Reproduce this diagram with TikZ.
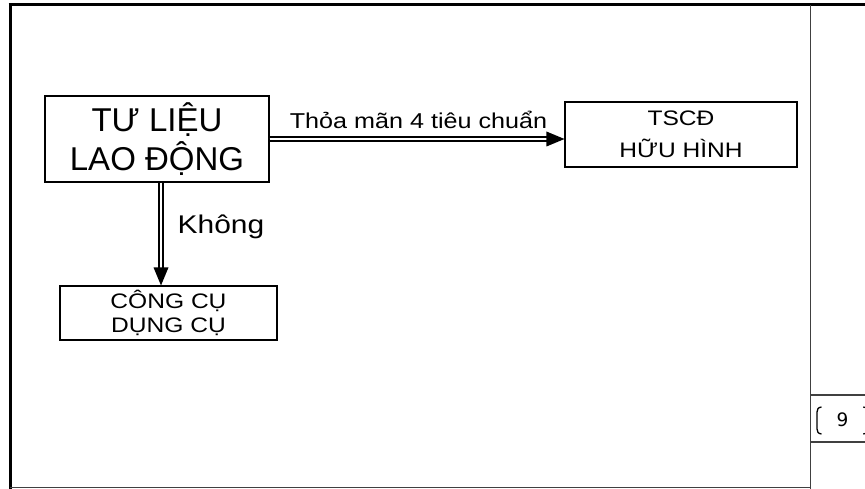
\documentclass[tikz,border=0pt]{standalone}
\usepackage{fontspec}
\setmainfont{Liberation Sans}
\newfontfamily\wide[FakeStretch=1.17]{Liberation Sans}
\newfontfamily\dejavu{DejaVu Sans}
\begin{document}
\begin{tikzpicture}[x=1pt,y=-1pt,
  box/.style={draw, line width=1.1pt, inner sep=0pt, align=center},
  heavyrule/.style={line width=3pt, black},
  lightrule/.style={line width=1.3pt, black!75},
  dbl/.style={double, double distance=1.3pt, line width=2pt, shorten >=15pt},
  lbl/.style={anchor=base, inner sep=0pt}]
\useasboundingbox (0,0) rectangle (865,489);
% frame
\draw[heavyrule] (8.5,5) -- (865,5);
\draw[heavyrule] (10,5) -- (10,489);
\draw[lightrule] (10,487.7) -- (810.5,487.7);
\draw[lightrule] (810.5,5) -- (810.5,489);
\draw[lightrule] (810.5,395) -- (865,395);
\draw[lightrule] (810.5,442) -- (865,442);
% page number
\node[lbl, font=\dejavu\fontsize{18.5}{20}\selectfont] (pg) at (842.5,426.7) {9};
\draw[line width=1.3pt] (821.5,407) .. controls (818.2,407.5) and (817,409) .. (817,412) -- (817,429) .. controls (817,432) and (818.2,433.5) .. (821.5,434);
\draw[line width=1.3pt] (863.3,407) .. controls (866.6,407.5) and (867.8,409) .. (867.8,412) -- (867.8,429) .. controls (867.8,432) and (866.6,433.5) .. (863.3,434);
% boxes
\node[box, minimum width=224pt, minimum height=86pt,
  font={\fontsize{33}{38.5}\selectfont}] (tl) at (157,139) {TƯ LIỆU\\LAO ĐỘNG};
\node[box, minimum width=232pt, minimum height=65pt,
  font={\wide\fontsize{21}{31.6}\selectfont}] (ts) at (681,134.5) {TSCĐ\\HỮU HÌNH};
\node[box, minimum width=217pt, minimum height=54pt,
  font={\wide\fontsize{21}{23.3}\selectfont}] (cc) at (168.5,313) {CÔNG CỤ\\DỤNG CỤ};
% connectors
\coordinate (vx) at (161,0);
\coordinate (htip) at (tl.east -| ts.west);
\coordinate (vtip) at (cc.north -| vx);
\draw[dbl] (tl.east) -- (htip);
\fill (htip) -- ++(-18,-7.5) -- ++(0,15) -- cycle;
\draw[dbl] (tl.south -| vx) -- (vtip);
\fill (vtip) -- ++(-7.5,-18) -- ++(15,0) -- cycle;
% labels
\node[lbl, font={\wide\fontsize{21.5}{24}\selectfont}] (l1) at (418.5,128.3) {Thỏa mãn 4 tiêu chuẩn};
\node[lbl, font={\wide\fontsize{25.6}{28}\selectfont}] (l2) at (221,233.3) {Không};
\end{tikzpicture}
\end{document}
